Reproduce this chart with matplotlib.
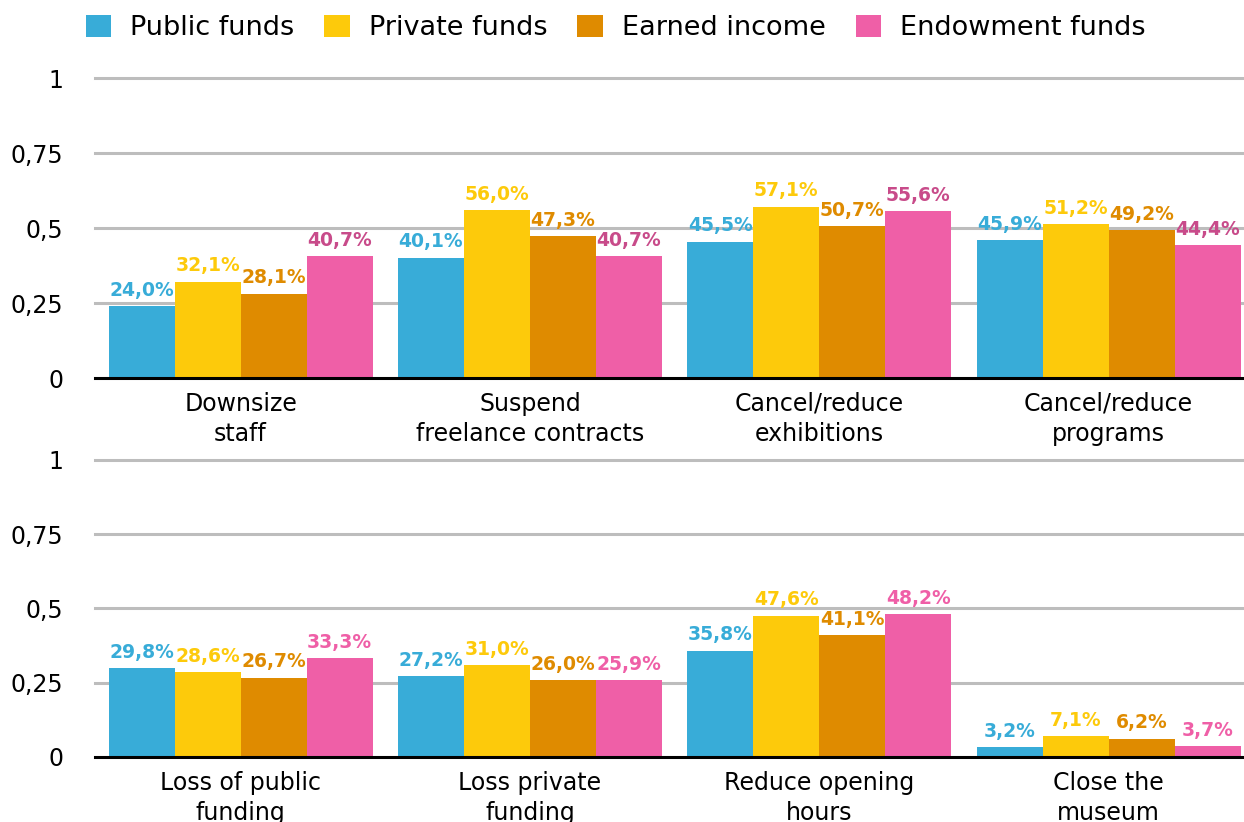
import numpy as np
import matplotlib.pyplot as plt
from matplotlib.patches import Patch

# Datos
series = ['Public funds', 'Private funds', 'Earned income', 'Endowment funds']
bar_colors = ['#38ACD8', '#FDCA0B', '#DF8B00', '#EF5FA7']

top_cats = ['Downsize\nstaff', 'Suspend\nfreelance contracts',
            'Cancel/reduce\nexhibitions', 'Cancel/reduce\nprograms']
top_public = [24.0, 40.1, 45.5, 45.9]
top_private = [32.1, 56.0, 57.1, 51.2]
top_earned = [28.1, 47.3, 50.7, 49.2]
top_endow = [40.7, 40.7, 55.6, 44.4]

bot_cats = ['Loss of public\nfunding', 'Loss private\nfunding',
            'Reduce opening\nhours', 'Close the\nmuseum']
bot_public = [29.8, 27.2, 35.8, 3.2]
bot_private = [28.6, 31.0, 47.6, 7.1]
bot_earned = [26.7, 26.0, 41.1, 6.2]
bot_endow = [33.3, 25.9, 48.2, 3.7]

yticks = [0, 0.25, 0.5, 0.75, 1]
ytick_labels = ['0', '0,25', '0,5', '0,75', '1']

plt.rcParams['font.family'] = 'DejaVu Sans'

fig = plt.figure(figsize=(12.44, 8.22), dpi=100)
ax_top = fig.add_axes([0.0764, 0.5401, 0.9236, 0.3650])
ax_bot = fig.add_axes([0.0764, 0.0791, 0.9236, 0.3613])


def draw_panel(ax, cats, values, label_colors):
    x = np.arange(len(cats))
    w = 0.228
    for i, vals in enumerate(values):
        pos = x + (i - 1.5) * w
        frac = np.array(vals) / 100
        ax.bar(pos, frac, width=w, color=bar_colors[i], zorder=3)
        for px, v, f in zip(pos, vals, frac):
            ax.annotate(f'{v:.1f}%'.replace('.', ','), (px, f),
                        xytext=(0, 4.5), textcoords='offset points',
                        ha='center', va='bottom', fontsize=13.5,
                        fontweight='bold', color=label_colors[i], zorder=4)
    ax.set_xlim(-0.503, 3.468)
    ax.set_ylim(0, 1)
    ax.set_yticks(yticks)
    ax.set_yticklabels(ytick_labels, fontsize=17)
    ax.set_xticks(x)
    ax.set_xticklabels(cats, fontsize=17, linespacing=1.3)
    ax.tick_params(axis='both', length=0)
    ax.tick_params(axis='y', pad=23)
    ax.tick_params(axis='x', pad=10)
    for yv in yticks[1:]:
        ax.axhline(yv, color='#BDBDBD', lw=2.2, zorder=1, clip_on=False)
    ax.axhline(0, color='black', lw=2.2, zorder=5, clip_on=False)
    for s in ax.spines.values():
        s.set_visible(False)


draw_panel(ax_top, top_cats, [top_public, top_private, top_earned, top_endow],
           ['#38ACD8', '#FDCA0B', '#DF8B00', '#C84B8A'])
draw_panel(ax_bot, bot_cats, [bot_public, bot_private, bot_earned, bot_endow],
           ['#38ACD8', '#FDCA0B', '#DF8B00', '#EF5FA7'])

handles = [Patch(facecolor=c, edgecolor='none') for c in bar_colors]
fig.legend(handles, series, loc='center', bbox_to_anchor=(0.495, 0.966),
           ncol=4, frameon=False, fontsize=19.5, handlelength=0.95,
           handleheight=0.9, handletextpad=0.7, columnspacing=1.1)

fig.savefig('out.png', dpi=100)
